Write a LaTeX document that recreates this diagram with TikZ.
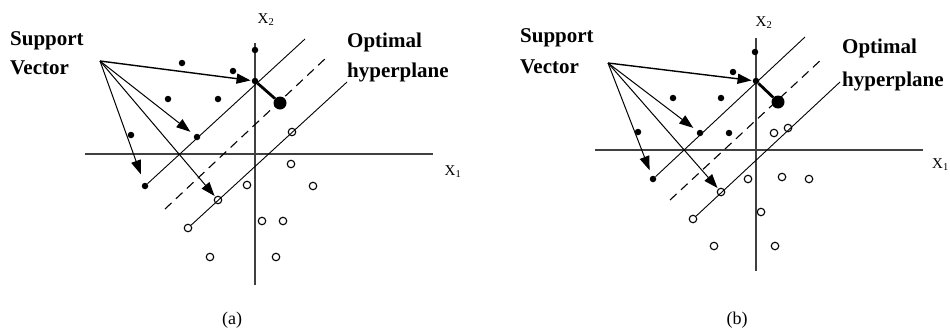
\documentclass[tikz,border=0pt]{standalone}
\usepackage{fontspec}
\setmainfont{Liberation Serif}
\usetikzlibrary{arrows.meta}
\begin{document}
\begin{tikzpicture}[x=1pt,y=-1pt,
  fdot/.style={circle,fill=black,inner sep=0pt,minimum size=6.5pt},
  odot/.style={circle,draw=black,fill=white,line width=1.1pt,inner sep=0pt,minimum size=7.5pt},
  bigdot/.style={circle,fill=black,inner sep=0pt,minimum size=13pt},
  axis/.style={line width=1.5pt,draw=black!75},
  plane/.style={line width=0.9pt},
  dplane/.style={line width=1.1pt,dash pattern=on 9pt off 6pt},
  arr/.style={line width=1pt,-{Triangle[length=14pt,width=10pt]}},
  marg/.style={line width=2.8pt},
  lab/.style={font=\bfseries\fontsize{21}{21}\selectfont,inner sep=0pt,anchor=base west},
  axlab/.style={font=\fontsize{15}{15}\selectfont,inner sep=0pt},
  captext/.style={font=\fontsize{18}{18}\selectfont,inner sep=0pt}]
\useasboundingbox (0,0) rectangle (950,335);
\fill[white] (0,0) rectangle (950,335);

% ---------------- panel (a) ----------------
\coordinate (a-xl) at (85,154);  \coordinate (a-xr) at (433,154);
\coordinate (a-yt) at (255,43);  \coordinate (a-yb) at (255,285);
\draw[axis] (a-xl) -- (a-xr);
\draw[axis] (a-yt) -- (a-yb);
\node[axlab] (a-x2) at (266,20) {X\textsubscript{2}};
\node[axlab] (a-x1) at (453,172) {X\textsubscript{1}};
\node[lab] (a-sup) at (10,45) {Support};
\node[lab] (a-vec) at (10,74) {Vector};
\node[lab] (a-opt) at (347,47) {Optimal};
\node[lab] (a-hyp) at (347,77) {hyperplane};
\node[captext] (a-cap) at (232,320) {(a)};
\coordinate (a-src) at (100,61);

% hyperplane lines
\coordinate (a-u2) at (305,39);
\coordinate (a-d1) at (165,209); \coordinate (a-d2) at (327,57);
\coordinate (a-l2) at (347,82);

% filled points
\node[fdot] (a-f1) at (255,50) {};
\node[fdot] (a-f2) at (182,63) {};
\node[fdot] (a-f3) at (233,71) {};
\node[fdot] (a-f4) at (168,99) {};
\node[fdot] (a-f5) at (218,99) {};
\node[fdot] (a-f6) at (131,135) {};
\node[fdot] (a-s1) at (255,81) {};
\node[fdot] (a-s2) at (197,137) {};
\node[fdot] (a-s3) at (145,186) {};
\node[bigdot] (a-big) at (280,103) {};
% open points
\node[odot] (a-o1) at (292,132) {};
\node[odot] (a-o2) at (291,164) {};
\node[odot] (a-o3) at (247,185) {};
\node[odot] (a-o4) at (313,186) {};
\node[odot] (a-s4) at (218,200) {};
\node[odot] (a-o5) at (188,228) {};
\node[odot] (a-o6) at (262,221) {};
\node[odot] (a-o7) at (283,221) {};
\node[odot] (a-o8) at (210,257) {};
\node[odot] (a-o9) at (276,257) {};

\draw[plane] (a-s3) -- (a-u2);
\draw[dplane] (a-d1) -- (a-d2);
\draw[plane] (a-o5) -- (a-l2);
\draw[marg] (a-s1) -- (a-big);
\draw[arr,line width=1.4pt,shorten >=1pt] (a-src) -- (a-s1);
\draw[arr,shorten >=5pt] (a-src) -- (a-s2);
\draw[arr,shorten >=9pt] (a-src) -- (a-s3);
\draw[arr,shorten >=1pt] (a-src) -- (a-s4);

% ---------------- panel (b) ----------------
\coordinate (b-xl) at (595,150);  \coordinate (b-xr) at (923,150);
\coordinate (b-yt) at (756,38);   \coordinate (b-yb) at (756,271);
\draw[axis] (b-xl) -- (b-xr);
\draw[axis] (b-yt) -- (b-yb);
\node[axlab] (b-x2) at (764,23) {X\textsubscript{2}};
\node[axlab,anchor=west] (b-x1) at (932,165) {X\textsubscript{1}};
\node[lab] (b-sup) at (520,42) {Support};
\node[lab] (b-vec) at (520,73) {Vector};
\node[lab] (b-opt) at (842,53) {Optimal};
\node[lab] (b-hyp) at (842,86) {hyperplane};
\node[captext] (b-cap) at (737,320) {(b)};
\coordinate (b-src) at (608,63);

\coordinate (b-u2) at (805,37);
\coordinate (b-d1) at (670,200); \coordinate (b-d2) at (823,58);
\coordinate (b-l2) at (840,82);

\node[fdot] (b-f1) at (755,52) {};
\node[fdot] (b-f2) at (733,72) {};
\node[fdot] (b-f3) at (673,98) {};
\node[fdot] (b-f4) at (721,98) {};
\node[fdot] (b-f5) at (638,132) {};
\node[fdot] (b-f6) at (729,133) {};
\node[fdot] (b-s1) at (756,81) {};
\node[fdot] (b-s2) at (700,133) {};
\node[fdot] (b-s3) at (653,179) {};
\node[bigdot] (b-big) at (778,102) {};
\node[odot] (b-o1) at (774,133) {};
\node[odot] (b-o2) at (788,128) {};
\node[odot] (b-o3) at (748,179) {};
\node[odot] (b-o4) at (782,177) {};
\node[odot] (b-o5) at (809,179) {};
\node[odot] (b-s4) at (721,192) {};
\node[odot] (b-o6) at (693,219) {};
\node[odot] (b-o7) at (761,212) {};
\node[odot] (b-o8) at (714,246) {};
\node[odot] (b-o9) at (775,246) {};

\draw[plane] (b-s3) -- (b-u2);
\draw[dplane] (b-d1) -- (b-d2);
\draw[plane] (b-o6) -- (b-l2);
\draw[marg] (b-s1) -- (b-big);
\draw[arr,line width=1.4pt,shorten >=1pt] (b-src) -- (b-s1);
\draw[arr,shorten >=5pt] (b-src) -- (b-s2);
\draw[arr,shorten >=6pt] (b-src) -- (b-s3);
\draw[arr,shorten >=1pt] (b-src) -- (b-s4);
\end{tikzpicture}
\end{document}
